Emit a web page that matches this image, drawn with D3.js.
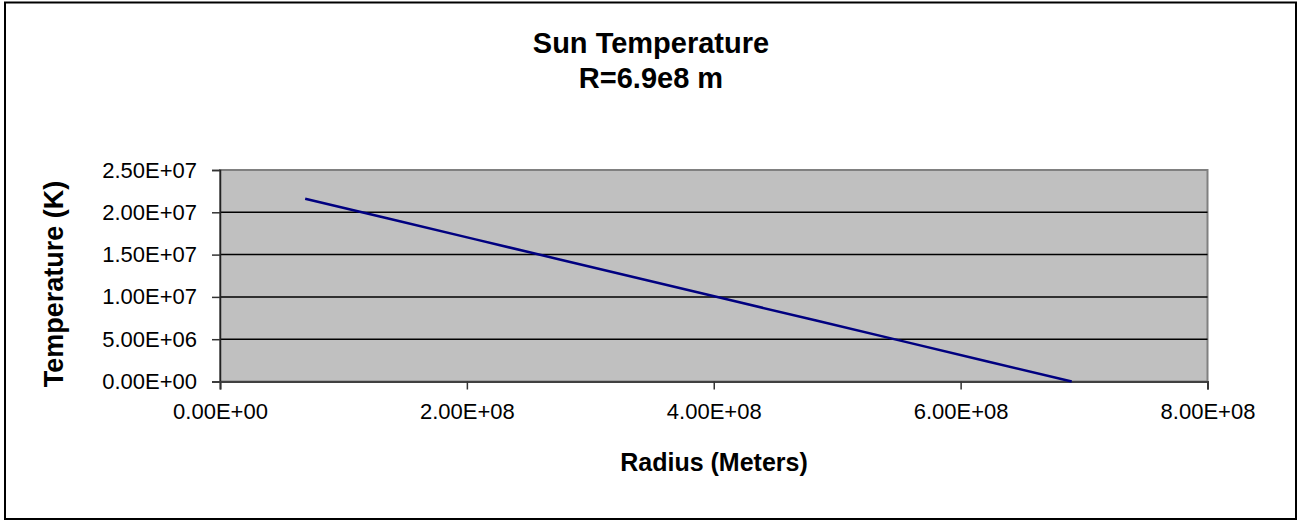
<!DOCTYPE html>
<html>
<head>
<meta charset="utf-8">
<script src="https://cdn.jsdelivr.net/npm/d3@7"></script>
<style>
  html, body { margin: 0; padding: 0; background: #fff; }
  svg { display: block; font-family: "Liberation Sans", Arial, sans-serif; }
</style>
</head>
<body>
<svg id="chart" width="1301" height="520"></svg>
<script>
// ---- data ----
const radius = [6.9e7, 1.38e8, 2.07e8, 2.76e8, 3.45e8, 4.14e8, 4.83e8, 5.52e8, 6.21e8, 6.9e8];
const temperature = [2.16e7, 1.92e7, 1.68e7, 1.44e7, 1.2e7, 9.6e6, 7.2e6, 4.8e6, 2.4e6, 0];
const xTicks = [0, 2e8, 4e8, 6e8, 8e8];
const yTicks = [0, 5e6, 1e7, 1.5e7, 2e7, 2.5e7];
const titleLines = ["Sun Temperature", "R=6.9e8 m"];
const xTitle = "Radius (Meters)";
const yTitle = "Temperature (K)";

const svg = d3.select("#chart");
const W = 1301, H = 520;
const plot = { left: 220, right: 1207.5, top: 170, bottom: 381.5 };

const fmt = v => {
  const s = v.toExponential(2).toUpperCase(); // e.g. "2.50E+7"
  return s.replace(/E([+-])(\d)$/, "E$10$2");
};

// outer frame
svg.append("rect").attr("x", 5).attr("y", 2.5).attr("width", 1291).attr("height", 516.5)
  .attr("fill", "#fff").attr("stroke", "#000").attr("stroke-width", 2);

const x = d3.scaleLinear().domain([0, 8e8]).range([plot.left, plot.right]);
const y = d3.scaleLinear().domain([0, 2.5e7]).range([plot.bottom, plot.top]);

// plot background
svg.append("rect").attr("x", plot.left).attr("y", plot.top)
  .attr("width", plot.right - plot.left).attr("height", plot.bottom - plot.top)
  .attr("fill", "#c0c0c0").attr("stroke", "#808080").attr("stroke-width", 2);

// gridlines
svg.append("g").selectAll("line").data(yTicks.filter(d => d > 0 && d < 2.5e7)).join("line")
  .attr("x1", plot.left).attr("x2", plot.right)
  .attr("y1", d => y(d)).attr("y2", d => y(d))
  .attr("stroke", "#000").attr("stroke-width", 1.5);

// y axis
const yAxis = svg.append("g").attr("transform", `translate(${plot.left},0)`)
  .call(d3.axisLeft(y).tickValues(yTicks).tickFormat(fmt).tickSize(8).tickPadding(15));
yAxis.select(".domain").attr("stroke", "#222").attr("stroke-width", 1.5);
yAxis.selectAll(".tick line").attr("stroke", "#333").attr("stroke-width", 1.5);
yAxis.selectAll(".tick text").attr("font-size", 22).attr("fill", "#000")
  .attr("font-family", "Liberation Sans, Arial, sans-serif");

// x axis
const xAxis = svg.append("g").attr("transform", `translate(0,${plot.bottom})`)
  .call(d3.axisBottom(x).tickValues(xTicks).tickFormat(fmt).tickSize(8).tickPadding(14));
xAxis.select(".domain").attr("stroke", "#404040").attr("stroke-width", 2);
xAxis.selectAll(".tick line").attr("stroke", "#333").attr("stroke-width", 1.5);
xAxis.selectAll(".tick text").attr("font-size", 22).attr("fill", "#000")
  .attr("font-family", "Liberation Sans, Arial, sans-serif");

// data line
const line = d3.line().x((d, i) => x(radius[i])).y(d => y(d));
svg.append("path").datum(temperature).attr("d", line)
  .attr("fill", "none").attr("stroke", "#000080").attr("stroke-width", 2.5);

// title
svg.append("g").selectAll("text").data(titleLines).join("text")
  .attr("x", 651).attr("y", (d, i) => 53 + i * 35)
  .attr("text-anchor", "middle").attr("font-weight", "bold").attr("font-size", 29)
  .text(d => d);

// axis titles
svg.append("text").attr("x", 714).attr("y", 471).attr("text-anchor", "middle")
  .attr("font-weight", "bold").attr("font-size", 25).text(xTitle);
svg.append("text").attr("transform", "translate(63,284) rotate(-90)")
  .attr("text-anchor", "middle").attr("font-weight", "bold").attr("font-size", 27).text(yTitle);
</script>
</body>
</html>
